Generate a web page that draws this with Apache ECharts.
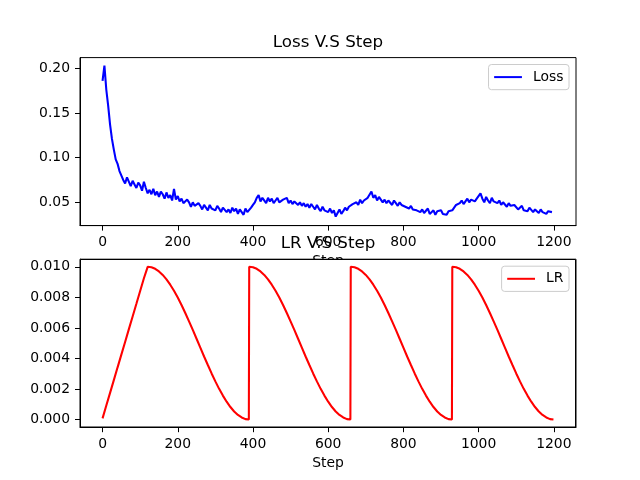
<!DOCTYPE html>
<html><head><meta charset="utf-8">
<script src="https://cdn.jsdelivr.net/npm/echarts@6/dist/echarts.min.js"></script>
<style>html,body{margin:0;padding:0;background:#fff}#c{width:640px;height:480px}</style>
</head><body><div id="c"></div>
<script>
// ---- data ----
const lossStride = 5; // loss recorded every 5 steps, starting at step 0
const lossValues = [
0.186,0.203,0.176,0.158,0.137,0.121,0.109,0.098,0.093,0.085,
0.083,0.075,0.071,0.078,0.076,0.068,0.074,0.070,0.066,0.072,
0.069,0.063,0.073,0.066,0.060,0.064,0.059,0.065,0.058,0.062,
0.056,0.062,0.059,0.054,0.061,0.055,0.058,0.052,0.065,0.053,
0.057,0.051,0.054,0.049,0.047,0.053,0.050,0.045,0.050,0.046,
0.044,0.049,0.046,0.042,0.047,0.044,0.041,0.047,0.043,0.045,
0.041,0.046,0.043,0.039,0.044,0.045,0.039,0.042,0.038,0.044,
0.040,0.043,0.037,0.042,0.039,0.036,0.043,0.039,0.041,0.044,
0.047,0.050,0.055,0.058,0.051,0.055,0.053,0.049,0.055,0.051,
0.054,0.049,0.052,0.055,0.050,0.048,0.053,0.051,0.055,0.049,
0.052,0.048,0.051,0.053,0.047,0.050,0.046,0.049,0.045,0.048,
0.044,0.048,0.045,0.042,0.047,0.043,0.040,0.045,0.041,0.043,
0.039,0.043,0.038,0.041,0.034,0.038,0.042,0.037,0.040,0.044,
0.041,0.045,0.043,0.048,0.046,0.050,0.047,0.053,0.049,0.052,
0.051,0.055,0.053,0.062,0.055,0.058,0.052,0.056,0.054,0.050,
0.053,0.049,0.052,0.050,0.047,0.052,0.049,0.046,0.050,0.047,
0.049,0.045,0.047,0.043,0.046,0.042,0.044,0.041,0.043,0.039,
0.042,0.038,0.040,0.043,0.037,0.039,0.041,0.036,0.040,0.038,
0.041,0.037,0.039,0.036,0.040,0.038,0.041,0.044,0.047,0.045,
0.049,0.052,0.048,0.051,0.054,0.050,0.053,0.055,0.051,0.054,
0.052,0.060,0.054,0.050,0.056,0.052,0.049,0.055,0.051,0.053,
0.049,0.052,0.047,0.050,0.048,0.045,0.049,0.046,0.044,0.047,
0.045,0.042,0.044,0.046,0.041,0.043,0.040,0.044,0.042,0.039,
0.042,0.040,0.038,0.042,0.039,0.041,0.037,0.040,0.038,0.039
];
const lrSteps = [
0,10,20,30,40,50,60,70,80,90,100,110,120,
130,140,150,160,170,180,190,200,210,220,230,240,250,260,270,280,290,300,310,320,330,340,350,360,370,380,389,
390,400,410,420,430,440,450,460,470,480,490,500,510,520,530,540,550,560,570,580,590,600,610,620,630,640,650,659,
660,670,680,690,700,710,720,730,740,750,760,770,780,790,800,810,820,830,840,850,860,870,880,890,900,910,920,929,
930,940,950,960,970,980,990,1000,1010,1020,1030,1040,1050,1060,1070,1080,1090,1100,1110,1120,1130,1140,1150,1160,1170,1180,1190,1199
];
const lrValues = [
0.00008,0.00092,0.00175,0.00258,0.00342,0.00425,0.00508,0.00592,0.00675,0.00758,0.00842,0.00925,0.01000,
0.00997,0.00987,0.00970,0.00947,0.00918,0.00883,0.00843,0.00799,0.00750,0.00698,0.00643,0.00587,0.00529,0.00471,0.00413,0.00357,0.00302,0.00250,0.00201,0.00157,0.00117,0.00082,0.00053,0.00030,0.00014,0.00003,0.00000,
0.01000,0.00997,0.00987,0.00970,0.00947,0.00918,0.00883,0.00843,0.00799,0.00750,0.00698,0.00643,0.00587,0.00529,0.00471,0.00413,0.00357,0.00302,0.00250,0.00201,0.00157,0.00117,0.00082,0.00053,0.00030,0.00014,0.00003,0.00000,
0.01000,0.00997,0.00987,0.00970,0.00947,0.00918,0.00883,0.00843,0.00799,0.00750,0.00698,0.00643,0.00587,0.00529,0.00471,0.00413,0.00357,0.00302,0.00250,0.00201,0.00157,0.00117,0.00082,0.00053,0.00030,0.00014,0.00003,0.00000,
0.01000,0.00997,0.00987,0.00970,0.00947,0.00918,0.00883,0.00843,0.00799,0.00750,0.00698,0.00643,0.00587,0.00529,0.00471,0.00413,0.00357,0.00302,0.00250,0.00201,0.00157,0.00117,0.00082,0.00053,0.00030,0.00014,0.00003,0.00000
];
const xTicks = [0,200,400,600,800,1000,1200];
const lossTicks = [0.05,0.10,0.15,0.20];
const lrTicks = [0,0.002,0.004,0.006,0.008,0.010];
const titles = ['Loss V.S Step','LR V.S Step'];
const xName = 'Step';

// ---- build ----
const FONT = 'DejaVu Sans';
const lossData = lossValues.map((v,i)=>[i*lossStride, v]);
const lrData = lrSteps.map((s,i)=>[s, lrValues[i]]);

function xAxis(gi){
  return {
    type:'value', gridIndex:gi, min:-59.95, max:1258.95,
    name:xName, nameLocation:'middle', nameGap:29,
    nameTextStyle:{color:'#000', fontSize:13.9, fontFamily:FONT},
    axisLine:{show:true, onZero:false, lineStyle:{color:'#000', width:1}},
    axisTick:{show:true, length:5, customValues:xTicks, lineStyle:{color:'#000', width:1}},
    axisLabel:{customValues:xTicks, color:'#000', fontSize:13.9, fontFamily:FONT, margin:10,
      formatter:v=>String(v)},
    splitLine:{show:false}
  };
}
function yAxis(gi, min, max, ticks, dec){
  return {
    type:'value', gridIndex:gi, min:min, max:max,
    axisLine:{show:true, onZero:false, lineStyle:{color:'#000', width:1}},
    axisTick:{show:true, length:5, customValues:ticks, lineStyle:{color:'#000', width:1}},
    axisLabel:{customValues:ticks, color:'#000', fontSize:13.9, fontFamily:FONT, margin:10,
      formatter:v=>v.toFixed(dec)},
    splitLine:{show:false}
  };
}
function legend(name, top, color){
  return {
    data:[name], right:71, top:top, orient:'vertical',
    icon:'rect', itemWidth:27.8, itemHeight:2,
    itemStyle:{color:color},
    padding:[5.6,5.6,5.6,5.6],
    backgroundColor:'#fff', borderColor:'#cccccc', borderWidth:1, borderRadius:3,
    textStyle:{color:'#000', fontSize:13.9, fontFamily:FONT, padding:[0,0,0,6]}
  };
}

const chart = echarts.init(document.getElementById('c'), null, {renderer:'canvas'});
chart.setOption({
  animation:false,
  backgroundColor:'#fff',
  title:[
    {text:titles[0], left:328, textAlign:'center', top:34, padding:0,
     textStyle:{color:'#000', fontSize:16.7, fontWeight:'normal', fontFamily:FONT}},
    {text:titles[1], left:328, textAlign:'center', top:235.5, padding:0,
     textStyle:{color:'#000', fontSize:16.7, fontWeight:'normal', fontFamily:FONT}}
  ],
  grid:[
    {left:80, right:64, top:57.6, height:168, show:true, borderColor:'#000', borderWidth:1, backgroundColor:'transparent'},
    {left:80, right:64, top:259.2, height:168, show:true, borderColor:'#000', borderWidth:1, backgroundColor:'transparent'}
  ],
  xAxis:[xAxis(0), xAxis(1)],
  yAxis:[yAxis(0, 0.0239, 0.2120, lossTicks, 2), yAxis(1, -0.0005, 0.0105, lrTicks, 3)],
  legend:[legend('Loss', 64.5, '#0000ff'), legend('LR', 266.2, '#ff0000')],
  graphic:[{
    type:'rect', z:1, silent:true,
    shape:{x:80.5, y:259.5, width:495, height:167.5},
    style:{fill:'#fff', stroke:'#000', lineWidth:1}
  }],
  series:[
    {name:'Loss', type:'line', xAxisIndex:0, yAxisIndex:0, data:lossData,
     symbol:'none', showSymbol:false, color:'#0000ff', lineStyle:{color:'#0000ff', width:2.08}},
    {name:'LR', type:'line', xAxisIndex:1, yAxisIndex:1, data:lrData,
     symbol:'none', showSymbol:false, color:'#ff0000', lineStyle:{color:'#ff0000', width:2.08}}
  ]
});
</script>
</body></html>
